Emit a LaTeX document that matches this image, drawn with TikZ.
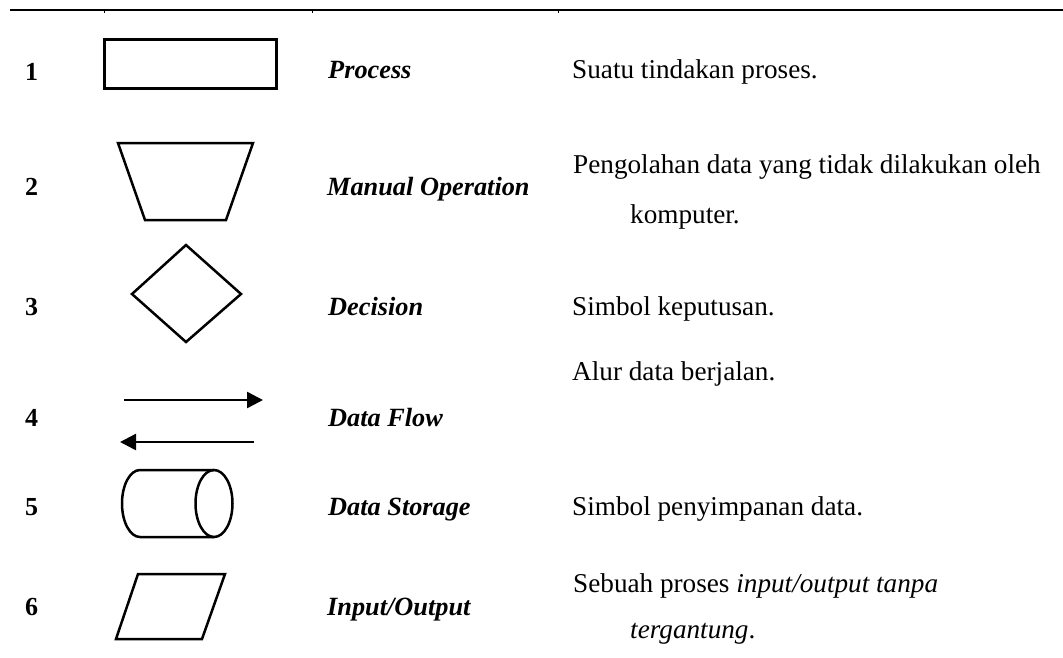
\documentclass[tikz,border=0pt]{standalone}
\usepackage{fontspec}
\setmainfont{Liberation Serif}
\usetikzlibrary{arrows.meta}
\tikzset{
  shapeline/.style={line width=2.5pt, line join=miter},
  txt/.style={anchor=base west, inner sep=0pt, font=\fontsize{27.2}{30}\selectfont},
  num/.style={txt, font=\fontsize{26}{30}\selectfont\bfseries},
  term/.style={txt, font=\fontsize{26.3}{30}\selectfont\bfseries\itshape},
  flow/.style={line width=2.5pt, -{Triangle[length=16pt,width=16pt]}}
}
\begin{document}
\begin{tikzpicture}[x=1pt,y=-1pt]
\useasboundingbox (0,0) rectangle (1063,657);
% top rule
\draw[line width=2.8pt] (10,10) -- (1063,10);
\foreach \tx in {104,312,558} \draw[line width=0.9pt] (\tx,10) -- (\tx,13);

% row 1
\node[num] (n1) at (25,80) {1};
\node[draw, line width=2.8pt, minimum width=172pt, minimum height=49pt, inner sep=0pt] (proc) at (190.5,64) {};
\node[term] (t1) at (328,78) {Process};
\node[txt] (d1) at (572,78) {Suatu tindakan proses.};

% row 2
\node[num] (n2) at (25,195) {2};
\draw[shapeline] (118,143) -- (253,143) -- (226,220) -- (145,220) -- cycle;
\node[term] (t2) at (327,195) {Manual Operation};
\node[txt] (d2a) at (573,173) {Pengolahan data yang tidak dilakukan oleh};
\node[txt] (d2b) at (630,223) {komputer.};

% row 3
\node[num] (n3) at (25,315) {3};
\draw[shapeline] (186,245) -- (241,294) -- (186,342) -- (132,294) -- cycle;
\node[term] (t3) at (328,315) {Decision};
\node[txt] (d3) at (572,315) {Simbol keputusan.};

% row 4
\node[num] (n4) at (25,426) {4};
\coordinate (r1) at (124,400);
\coordinate (r2) at (263,400);
\coordinate (l1) at (254,442);
\coordinate (l2) at (120,442);
\draw[flow] (r1) -- (r2);
\draw[flow] (l1) -- (l2);
\node[term] (t4) at (328,426) {Data Flow};
\node[txt] (d4) at (572,380) {Alur data berjalan.};

% row 5
\node[num] (n5) at (25,515) {5};
\draw[shapeline] (214,470) -- (140,470) arc[start angle=270, end angle=90, x radius=18, y radius=33.5] -- (214,537);
\draw[shapeline] (214,503.5) ellipse [x radius=18.5, y radius=33.5];
\node[term] (t5) at (328,515) {Data Storage};
\node[txt] (d5) at (572,515) {Simbol penyimpanan data.};

% row 6
\node[num] (n6) at (25,615) {6};
\draw[shapeline] (138,574) -- (225,574) -- (202,639) -- (116,639) -- cycle;
\node[term] (t6) at (327,615) {Input/Output};
\node[txt] (d6a) at (573,592) {Sebuah proses \textit{input/output tanpa}};
\node[txt] (d6b) at (630,638) {\textit{tergantung}.};
\end{tikzpicture}
\end{document}
